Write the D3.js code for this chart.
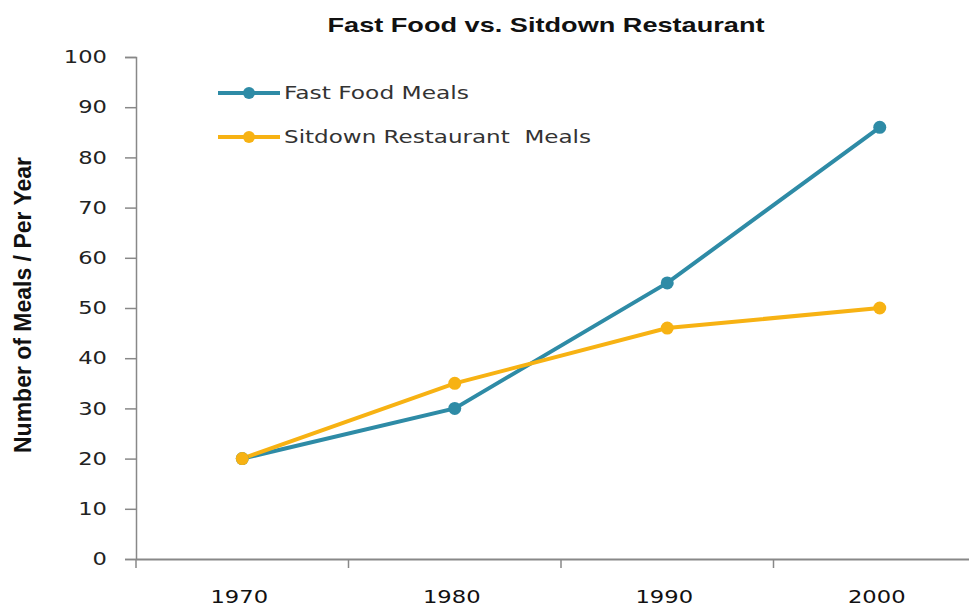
<!DOCTYPE html>
<html>
<head>
<meta charset="utf-8">
<script src="https://cdn.jsdelivr.net/npm/d3@7"></script>
<style>
  body { margin: 0; background: #fff; }
  svg { display: block; }
</style>
</head>
<body>
<div id="chart"></div>
<script>
// chart data
const years = ["1970", "1980", "1990", "2000"];
const fastFood = [20, 30, 55, 86];
const sitdown = [20, 35, 46, 50];
const seriesNames = ["Fast Food Meals", "Sitdown Restaurant  Meals"];
const yTicks = [0, 10, 20, 30, 40, 50, 60, 70, 80, 90, 100];

const width = 969, height = 606;
const margin = { top: 57, right: -17, bottom: 47, left: 136 };
const colors = ["#2e8ba6", "#f7b213"];

// the source image is a bit stretched sideways, so texts get a fixed length
const charW = 14.4;

const svg = d3.select("#chart").append("svg")
    .attr("width", width)
    .attr("height", height);

const x = d3.scaleBand()
    .domain(years)
    .range([margin.left, width - margin.right]);

const y = d3.scaleLinear()
    .domain([0, 100])
    .range([height - margin.bottom, margin.top]);

// title
svg.append("text")
    .attr("x", 546)
    .attr("y", 32)
    .attr("text-anchor", "middle")
    .attr("textLength", 437)
    .attr("lengthAdjust", "spacingAndGlyphs")
    .style("font-family", "'Liberation Sans', Arial, sans-serif")
    .style("font-weight", "bold")
    .style("font-size", "21px")
    .attr("fill", "#111")
    .text("Fast Food vs. Sitdown Restaurant");

// y axis
const yAxis = svg.append("g")
    .attr("transform", `translate(${margin.left},0)`)
    .call(d3.axisLeft(y).tickValues(yTicks).tickSize(11).tickPadding(18));
yAxis.select(".domain").attr("stroke", "#888").attr("stroke-width", 1.5);
yAxis.selectAll(".tick line").attr("stroke", "#888").attr("stroke-width", 1.5);
yAxis.selectAll(".tick text")
    .attr("textLength", d => String(d).length * charW)
    .attr("lengthAdjust", "spacingAndGlyphs")
    .style("font-family", "'DejaVu Sans', Verdana, sans-serif")
    .style("font-size", "18px")
    .attr("fill", "#222");

// x axis
const xAxis = svg.append("g")
    .attr("transform", `translate(0,${y(0)})`)
    .call(d3.axisBottom(x).tickSize(0).tickPadding(0));
xAxis.select(".domain").attr("stroke", "#888").attr("stroke-width", 2);
xAxis.selectAll(".tick text")
    .attr("dy", null)
    .attr("y", 44)
    .attr("dx", -3)
    .attr("textLength", d => d.length * charW)
    .attr("lengthAdjust", "spacingAndGlyphs")
    .style("font-family", "'DejaVu Sans', Verdana, sans-serif")
    .style("font-size", "18px")
    .attr("fill", "#111");

// x tick marks between categories
xAxis.selectAll(".sep")
    .data(d3.range(years.length + 1))
    .join("line")
    .attr("class", "sep")
    .attr("x1", i => x.range()[0] + i * x.step())
    .attr("x2", i => x.range()[0] + i * x.step())
    .attr("y1", 0)
    .attr("y2", 9)
    .attr("stroke", "#888")
    .attr("stroke-width", 1.5);

// y axis label
svg.append("text")
    .attr("transform", "translate(31,305) rotate(-90)")
    .attr("text-anchor", "middle")
    .attr("textLength", 296)
    .attr("lengthAdjust", "spacingAndGlyphs")
    .style("font-family", "'Liberation Sans', Arial, sans-serif")
    .style("font-weight", "bold")
    .style("font-size", "24px")
    .attr("fill", "#111")
    .text("Number of Meals / Per Year");

// lines
const line = d3.line()
    .x((d, i) => x(years[i]) + x.bandwidth() / 2)
    .y(d => y(d));

[fastFood, sitdown].forEach(function(vals, k) {
    svg.append("path")
        .datum(vals)
        .attr("fill", "none")
        .attr("stroke", colors[k])
        .attr("stroke-width", 4)
        .attr("d", line);
});

[fastFood, sitdown].forEach(function(vals, k) {
    svg.selectAll(null)
        .data(vals)
        .join("circle")
        .attr("cx", (d, i) => x(years[i]) + x.bandwidth() / 2)
        .attr("cy", d => y(d))
        .attr("r", 6.5)
        .attr("fill", colors[k]);
});

// legend
const legend = svg.append("g")
    .attr("transform", "translate(218,93)");

const legendLen = [185, 307];

seriesNames.forEach(function(name, i) {
    const row = legend.append("g")
        .attr("transform", "translate(0," + (i * 44) + ")");
    row.append("line")
        .attr("x1", 0).attr("x2", 62)
        .attr("stroke", colors[i])
        .attr("stroke-width", 4);
    row.append("circle")
        .attr("cx", 31)
        .attr("r", 6)
        .attr("fill", colors[i]);
    row.append("text")
        .attr("x", 66)
        .attr("y", 6)
        .attr("textLength", legendLen[i])
        .attr("lengthAdjust", "spacingAndGlyphs")
        .style("font-family", "'DejaVu Sans', Verdana, sans-serif")
        .style("font-size", "17px")
        .attr("fill", "#333")
        .style("white-space", "pre")
        .text(name);
});
</script>
</body>
</html>
